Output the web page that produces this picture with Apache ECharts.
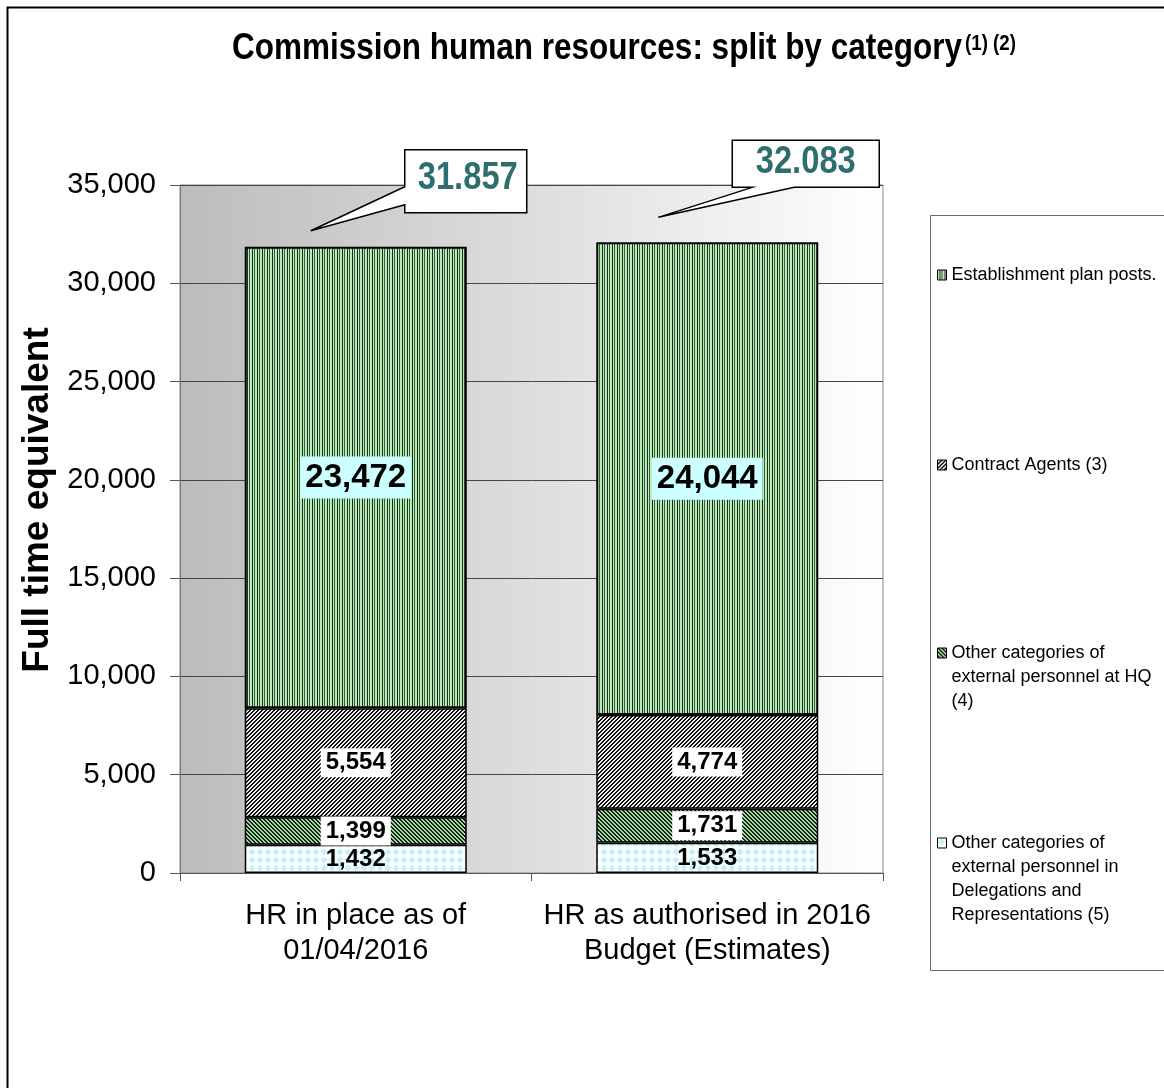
<!DOCTYPE html>
<html>
<head>
<meta charset="utf-8">
<title>Commission human resources</title>
<script src="https://cdn.jsdelivr.net/npm/echarts@6/dist/echarts.min.js"></script>
<style>
  html, body { margin: 0; padding: 0; background: #fff; }
  #chart { width: 1164px; height: 1088px; }
</style>
</head>
<body>
<div id="chart"></div>
<script>
// data
const categories = ['HR in place as of\n01/04/2016', 'HR as authorised in 2016\nBudget (Estimates)']
const delegations = [1432, 1533]
const otherHQ = [1399, 1731]
const contractAgents = [5554, 4774]
const establishment = [23472, 24044]
const totals = [31857, 32083]
const totalLabels = ['31.857', '32.083']
const yTicks = { min: 0, max: 35000, interval: 5000 }

const seriesNames = [
  'Other categories of\nexternal personnel in\nDelegations and\nRepresentations (5)',
  'Other categories of\nexternal personnel at HQ\n(4)',
  'Contract Agents (3)',
  'Establishment plan posts.'
]

const sans = "'Liberation Sans', Arial, sans-serif"

// small canvas patterns for the hatched fills
const makePattern = (w, h, draw) => {
  const c = document.createElement('canvas')
  c.width = w
  c.height = h
  draw(c.getContext('2d'))
  return { image: c, repeat: 'repeat' }
}

const patEstablishment = makePattern(5, 4, ctx => {
  ctx.fillStyle = '#b6ecb6'
  ctx.fillRect(0, 0, 5, 4)
  ctx.fillStyle = '#1c2c1c'
  ctx.fillRect(2, 0, 1, 4)
  ctx.fillStyle = '#3c5a3c'
  ctx.fillRect(4, 0, 1, 4)
})

const patContract = makePattern(4, 4, ctx => {
  ctx.fillStyle = '#f0f0f0'
  ctx.fillRect(0, 0, 4, 4)
  ctx.fillStyle = '#111'
  for (let i = 0; i < 4; i++) {
    ctx.fillRect(3 - i, i, 1, 1)
    ctx.fillRect((4 - i) % 4, i, 1, 1)
  }
})

const patHQ = makePattern(4, 4, ctx => {
  ctx.fillStyle = '#a6daa6'
  ctx.fillRect(0, 0, 4, 4)
  ctx.fillStyle = '#142414'
  for (let i = 0; i < 4; i++) {
    ctx.fillRect(i, i, 1, 1)
    ctx.fillRect((i + 1) % 4, i, 1, 1)
  }
})

const patDeleg = makePattern(8, 8, ctx => {
  ctx.fillStyle = '#ffffff'
  ctx.fillRect(0, 0, 8, 8)
  ctx.fillStyle = '#c2f2f6'
  ctx.beginPath()
  ctx.moveTo(4, 0.5)
  ctx.lineTo(7.5, 4)
  ctx.lineTo(4, 7.5)
  ctx.lineTo(0.5, 4)
  ctx.closePath()
  ctx.fill()
})

const fmt = v => v.toLocaleString('en-US')

const smallLabel = {
  show: true,
  position: 'inside',
  formatter: p => fmt(p.value),
  fontFamily: sans,
  fontWeight: 'bold',
  fontSize: 24,
  color: '#000',
  backgroundColor: '#fff',
  padding: [4, 5, 1, 5]
}

const chart = echarts.init(document.getElementById('chart'))

const barBase = {
  type: 'bar',
  stack: 'total',
  barWidth: 222,
  emphasis: { disabled: true }
}

// one legend per item so each entry sits at its own height;
// blank lines on top keep the icon level with the first line of text
const legendTops = [759, 593, 453, 263]
const lineCounts = [4, 3, 1, 1]
const legends = seriesNames.map((name, i) => ({
  data: [name],
  orient: 'vertical',
  left: 937,
  top: legendTops[i],
  padding: 0,
  icon: 'rect',
  itemWidth: 9,
  itemHeight: 10,
  itemGap: 0,
  itemStyle: { borderColor: '#000', borderWidth: 1 },
  formatter: n => '\n'.repeat(lineCounts[i] - 1) + n,
  textStyle: {
    fontFamily: sans,
    fontSize: 18,
    color: '#000',
    lineHeight: 24
  }
}))

const option = {
  animation: false,
  legend: legends,
  grid: {
    left: 180,
    right: 281,
    top: 185,
    bottom: 215,
    show: true,
    borderColor: '#888',
    borderWidth: 1,
    backgroundColor: new echarts.graphic.LinearGradient(0, 0, 1, 0, [
      { offset: 0, color: '#bcbcbc' },
      { offset: 1, color: '#ffffff' }
    ])
  },
  xAxis: {
    type: 'category',
    data: categories,
    axisLine: { lineStyle: { color: '#555', width: 1 } },
    axisTick: { show: true, interval: 0, length: 8, lineStyle: { color: '#555' } },
    axisLabel: {
      interval: 0,
      fontFamily: sans,
      fontSize: 29,
      lineHeight: 35,
      color: '#000',
      margin: 25
    }
  },
  yAxis: {
    type: 'value',
    min: yTicks.min,
    max: yTicks.max,
    interval: yTicks.interval,
    name: 'Full time equivalent',
    nameLocation: 'middle',
    nameGap: 108,
    nameTextStyle: {
      fontFamily: sans,
      fontWeight: 'bold',
      fontSize: 37,
      color: '#000',
      padding: [0, 0, 0, 58]
    },
    axisLine: { show: true, lineStyle: { color: '#777' } },
    axisTick: { show: true, length: 10, lineStyle: { color: '#555' } },
    splitLine: { lineStyle: { color: '#444', width: 1 } },
    axisLabel: {
      fontFamily: sans,
      fontSize: 29,
      color: '#000',
      margin: 24,
      formatter: v => fmt(v)
    }
  },
  series: [
    {
      ...barBase,
      name: seriesNames[0],
      data: delegations,
      itemStyle: { color: patDeleg, borderColor: '#000', borderWidth: 1.5 },
      label: { ...smallLabel, backgroundColor: 'transparent', padding: [8, 4, 0, 4] }
    },
    {
      ...barBase,
      name: seriesNames[1],
      data: otherHQ,
      itemStyle: { color: patHQ, borderColor: '#000', borderWidth: 1.5 },
      label: smallLabel
    },
    {
      ...barBase,
      name: seriesNames[2],
      data: contractAgents,
      itemStyle: { color: patContract, borderColor: '#000', borderWidth: 1.5 },
      label: smallLabel
    },
    {
      ...barBase,
      name: seriesNames[3],
      data: establishment,
      itemStyle: { color: patEstablishment, borderColor: '#000', borderWidth: 2 },
      label: {
        ...smallLabel,
        fontSize: 33,
        backgroundColor: '#ccffff',
        padding: [6, 5, 3, 5]
      }
    }
  ]
}

chart.setOption(option)

// condensed bold text, as in the original title and callouts
const narrowText = (x, y, text, size, align, fill, sx) => ({
  type: 'text',
  x: x,
  y: y,
  scaleX: sx || 0.86,
  style: {
    text: text,
    align: align,
    verticalAlign: 'middle',
    font: 'bold ' + size + 'px ' + sans,
    fill: fill
  }
})

// callout boxes for the totals, anchored to the top of each stack
const callouts = totals.map((t, i) => {
  const [px, py] = chart.convertToPixel({ gridIndex: 0 }, [i, t])
  if (i === 0) {
    const bx = px + 49, by = py - 97, w = 122, h = 63
    const tip = [px - 45, py - 16]
    return {
      type: 'group',
      children: [
        {
          type: 'polygon',
          shape: { points: [[bx, by], [bx + w, by], [bx + w, by + h], [bx, by + h], [bx, by + 55], tip, [bx, by + 37]] },
          style: { fill: '#fff', stroke: '#000', lineWidth: 1.5 }
        },
        narrowText(bx + w / 2 + 2, by + 29, totalLabels[i], 38, 'center', '#2f6e6e')
      ]
    }
  }
  const bx = px + 25, by = py - 102, w = 147, h = 47
  const tip = [px - 49, py - 25]
  return {
    type: 'group',
    children: [
      {
        type: 'polygon',
        shape: { points: [[bx, by], [bx + w, by], [bx + w, by + h], [bx + 62, by + h], tip, [bx + 20, by + h], [bx, by + h]] },
        style: { fill: '#fff', stroke: '#000', lineWidth: 1.5 }
      },
      narrowText(bx + w / 2, by + 22, totalLabels[i], 38, 'center', '#2f6e6e')
    ]
  }
})

chart.setOption({
  graphic: [
    {
      type: 'rect',
      shape: { x: 7.5, y: 7.5, width: 1300, height: 1300 },
      style: { fill: 'none', stroke: '#000', lineWidth: 2 },
      silent: true
    },
    {
      type: 'rect',
      shape: { x: 930.5, y: 215.5, width: 300, height: 755 },
      style: { fill: 'none', stroke: '#666', lineWidth: 1 },
      silent: true
    },
    narrowText(232, 49, 'Commission human resources: split by category', 36, 'left', '#000', 0.875),
    narrowText(965, 44, '(1) (2)', 22, 'left', '#000', 0.85),
    ...callouts
  ]
})
</script>
</body>
</html>
